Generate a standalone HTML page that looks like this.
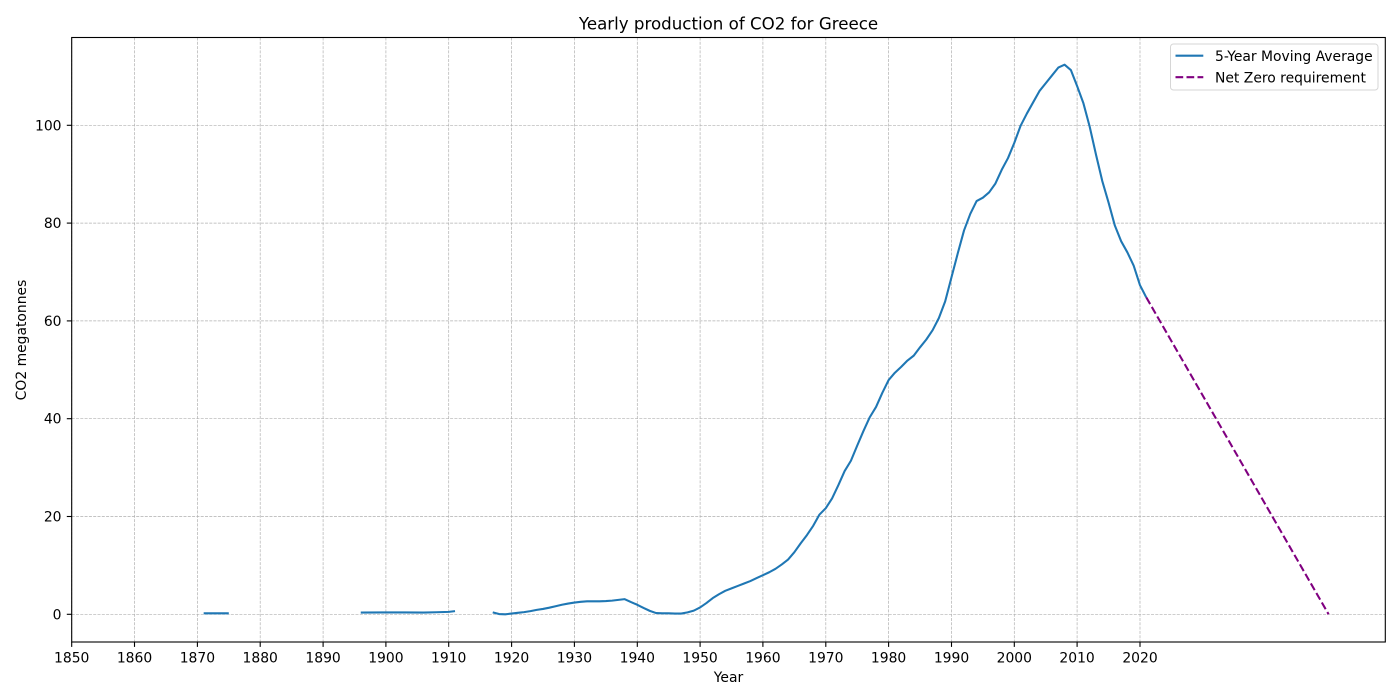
<!DOCTYPE html>
<html>
<head>
<meta charset="utf-8">
<style>
  html, body { margin: 0; padding: 0; background: #ffffff; }
  svg { display: block; }
  text { font-family: "DejaVu Sans", "Liberation Sans", sans-serif; fill: #000; }
</style>
</head>
<body>
<svg width="1400" height="700" viewBox="0 0 1400 700" xmlns="http://www.w3.org/2000/svg">
  <rect x="0" y="0" width="1400" height="700" fill="#ffffff"/>

  <!-- grid -->
  <g stroke="#b0b0b0" stroke-width="0.7" stroke-dasharray="3 1.3" fill="none">
    <line x1="71.7" y1="37.5" x2="71.7" y2="642"/>
    <line x1="134.5" y1="37.5" x2="134.5" y2="642"/>
    <line x1="197.4" y1="37.5" x2="197.4" y2="642"/>
    <line x1="260.2" y1="37.5" x2="260.2" y2="642"/>
    <line x1="323.1" y1="37.5" x2="323.1" y2="642"/>
    <line x1="385.9" y1="37.5" x2="385.9" y2="642"/>
    <line x1="448.7" y1="37.5" x2="448.7" y2="642"/>
    <line x1="511.6" y1="37.5" x2="511.6" y2="642"/>
    <line x1="574.4" y1="37.5" x2="574.4" y2="642"/>
    <line x1="637.3" y1="37.5" x2="637.3" y2="642"/>
    <line x1="700.1" y1="37.5" x2="700.1" y2="642"/>
    <line x1="762.9" y1="37.5" x2="762.9" y2="642"/>
    <line x1="825.8" y1="37.5" x2="825.8" y2="642"/>
    <line x1="888.6" y1="37.5" x2="888.6" y2="642"/>
    <line x1="951.5" y1="37.5" x2="951.5" y2="642"/>
    <line x1="1014.3" y1="37.5" x2="1014.3" y2="642"/>
    <line x1="1077.1" y1="37.5" x2="1077.1" y2="642"/>
    <line x1="1140.0" y1="37.5" x2="1140.0" y2="642"/>
    <line x1="71.7" y1="614.3" x2="1385.3" y2="614.3"/>
    <line x1="71.7" y1="516.5" x2="1385.3" y2="516.5"/>
    <line x1="71.7" y1="418.7" x2="1385.3" y2="418.7"/>
    <line x1="71.7" y1="320.9" x2="1385.3" y2="320.9"/>
    <line x1="71.7" y1="223.1" x2="1385.3" y2="223.1"/>
    <line x1="71.7" y1="125.3" x2="1385.3" y2="125.3"/>
  </g>

  <!-- data series (year, value) mapped to pixels -->
  <g transform="matrix(6.284,0,0,-4.89,-11553.7,614.3)" fill="none" stroke="#1f77b4" stroke-width="2.08" stroke-linejoin="round" stroke-linecap="butt">
    <polyline vector-effect="non-scaling-stroke" points="1871,0.2 1872,0.2 1873,0.2 1874,0.2 1875,0.2"/>
    <polyline vector-effect="non-scaling-stroke" points="1896,0.35 1900,0.38 1903,0.38 1906,0.35 1908,0.42 1910,0.5 1911,0.65"/>
    <polyline vector-effect="non-scaling-stroke" points="1917,0.4 1918,0.05 1919,0.0 1920,0.15 1921,0.3 1922,0.45 1923,0.65 1924,0.9 1925,1.1 1926,1.35 1927,1.65 1928,1.95 1929,2.2 1930,2.4 1931,2.55 1932,2.65 1933,2.65 1934,2.65 1935,2.7 1936,2.8 1937,2.95 1938,3.1 1939,2.5 1940,1.95 1941,1.3 1942,0.7 1943,0.25 1944,0.2 1945,0.2 1946,0.15 1947,0.15 1948,0.4 1949,0.75 1950,1.4 1951,2.3 1952,3.3 1953,4.1 1954,4.8 1955,5.3 1956,5.8 1957,6.3 1958,6.8 1959,7.4 1960,8.0 1961,8.6 1962,9.3 1963,10.2 1964,11.2 1965,12.7 1966,14.5 1967,16.2 1968,18.1 1969,20.4 1970,21.7 1971,23.7 1972,26.4 1973,29.3 1974,31.4 1975,34.5 1976,37.5 1977,40.3 1978,42.4 1979,45.3 1980,47.9 1981,49.4 1982,50.6 1983,51.9 1984,52.9 1985,54.6 1986,56.2 1987,58.1 1988,60.6 1989,64.0 1990,68.9 1991,73.8 1992,78.5 1993,81.9 1994,84.5 1995,85.2 1996,86.3 1997,88.1 1998,90.9 1999,93.3 2000,96.4 2001,99.9 2002,102.4 2003,104.7 2004,107.0 2005,108.6 2006,110.2 2007,111.8 2008,112.4 2009,111.3 2010,108.0 2011,104.5 2012,99.7 2013,94.0 2014,88.6 2015,84.2 2016,79.5 2017,76.3 2018,74.0 2019,71.3 2020,67.3 2021,64.8"/>
  </g>

  <!-- net zero -->
  <line x1="1146.3" y1="297.4" x2="1328.6" y2="614.3" stroke="#800080" stroke-width="2.08" stroke-dasharray="7.7 3.3" fill="none"/>

  <!-- spines -->
  <rect x="71.7" y="37.5" width="1313.6" height="604.5" fill="none" stroke="#000" stroke-width="1.1"/>

  <!-- ticks -->
  <g stroke="#000" stroke-width="1.1">
    <line x1="71.7" y1="642" x2="71.7" y2="646.9"/>
    <line x1="134.5" y1="642" x2="134.5" y2="646.9"/>
    <line x1="197.4" y1="642" x2="197.4" y2="646.9"/>
    <line x1="260.2" y1="642" x2="260.2" y2="646.9"/>
    <line x1="323.1" y1="642" x2="323.1" y2="646.9"/>
    <line x1="385.9" y1="642" x2="385.9" y2="646.9"/>
    <line x1="448.7" y1="642" x2="448.7" y2="646.9"/>
    <line x1="511.6" y1="642" x2="511.6" y2="646.9"/>
    <line x1="574.4" y1="642" x2="574.4" y2="646.9"/>
    <line x1="637.3" y1="642" x2="637.3" y2="646.9"/>
    <line x1="700.1" y1="642" x2="700.1" y2="646.9"/>
    <line x1="762.9" y1="642" x2="762.9" y2="646.9"/>
    <line x1="825.8" y1="642" x2="825.8" y2="646.9"/>
    <line x1="888.6" y1="642" x2="888.6" y2="646.9"/>
    <line x1="951.5" y1="642" x2="951.5" y2="646.9"/>
    <line x1="1014.3" y1="642" x2="1014.3" y2="646.9"/>
    <line x1="1077.1" y1="642" x2="1077.1" y2="646.9"/>
    <line x1="1140.0" y1="642" x2="1140.0" y2="646.9"/>
    <line x1="66.8" y1="614.3" x2="71.7" y2="614.3"/>
    <line x1="66.8" y1="516.5" x2="71.7" y2="516.5"/>
    <line x1="66.8" y1="418.7" x2="71.7" y2="418.7"/>
    <line x1="66.8" y1="320.9" x2="71.7" y2="320.9"/>
    <line x1="66.8" y1="223.1" x2="71.7" y2="223.1"/>
    <line x1="66.8" y1="125.3" x2="71.7" y2="125.3"/>
  </g>

  <!-- x tick labels -->
  <g font-size="13.9" text-anchor="middle">
    <text x="71.7" y="662.3">1850</text>
    <text x="134.5" y="662.3">1860</text>
    <text x="197.4" y="662.3">1870</text>
    <text x="260.2" y="662.3">1880</text>
    <text x="323.1" y="662.3">1890</text>
    <text x="385.9" y="662.3">1900</text>
    <text x="448.7" y="662.3">1910</text>
    <text x="511.6" y="662.3">1920</text>
    <text x="574.4" y="662.3">1930</text>
    <text x="637.3" y="662.3">1940</text>
    <text x="700.1" y="662.3">1950</text>
    <text x="762.9" y="662.3">1960</text>
    <text x="825.8" y="662.3">1970</text>
    <text x="888.6" y="662.3">1980</text>
    <text x="951.5" y="662.3">1990</text>
    <text x="1014.3" y="662.3">2000</text>
    <text x="1077.1" y="662.3">2010</text>
    <text x="1140.0" y="662.3">2020</text>
  </g>

  <!-- y tick labels -->
  <g font-size="13.9" text-anchor="end">
    <text x="61.5" y="619.3">0</text>
    <text x="61.5" y="521.5">20</text>
    <text x="61.5" y="423.7">40</text>
    <text x="61.5" y="325.9">60</text>
    <text x="61.5" y="228.1">80</text>
    <text x="61.5" y="130.3">100</text>
  </g>

  <!-- axis labels and title -->
  <text x="728.5" y="682" font-size="13.9" text-anchor="middle">Year</text>
  <text transform="translate(26,340) rotate(-90)" font-size="13.9" text-anchor="middle">CO2 megatonnes</text>
  <text x="728.5" y="29.3" font-size="16.67" text-anchor="middle">Yearly production of CO2 for Greece</text>

  <!-- legend -->
  <rect x="1170.5" y="44" width="207.5" height="46" rx="3" ry="3" fill="#ffffff" fill-opacity="0.8" stroke="#d6d6d6" stroke-width="1"/>
  <line x1="1175.5" y1="55.7" x2="1203.3" y2="55.7" stroke="#1f77b4" stroke-width="2.08"/>
  <line x1="1175.5" y1="77.2" x2="1203.3" y2="77.2" stroke="#800080" stroke-width="2.08" stroke-dasharray="7.7 3.3"/>
  <text x="1215" y="61" font-size="13.9">5-Year Moving Average</text>
  <text x="1215" y="82.3" font-size="13.9">Net Zero requirement</text>
</svg>
</body>
</html>
